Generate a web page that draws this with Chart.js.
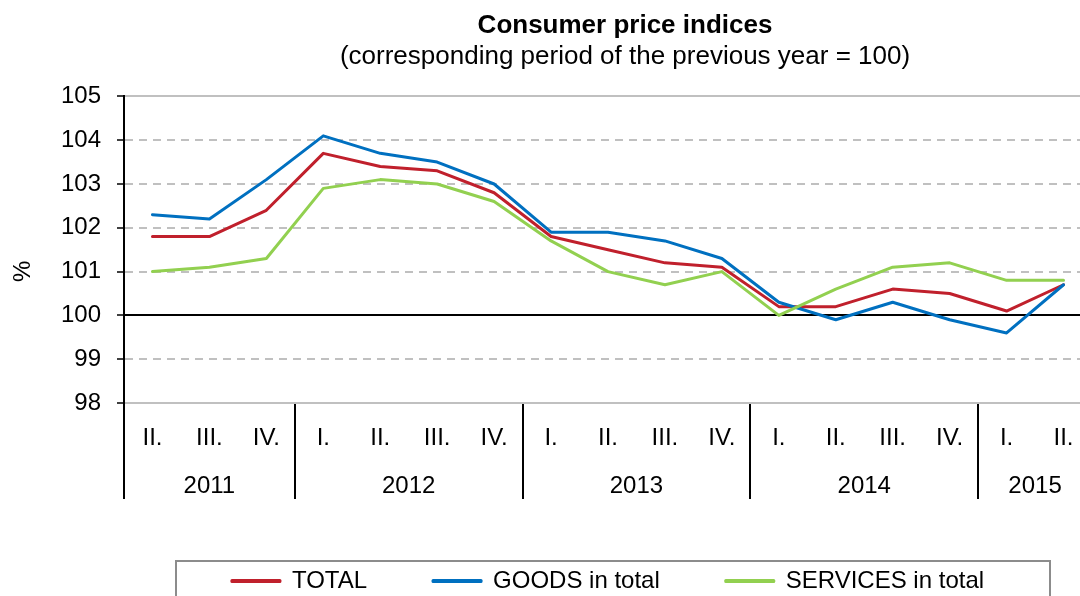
<!DOCTYPE html>
<html>
<head>
<meta charset="utf-8">
<script src="https://cdn.jsdelivr.net/npm/chart.js@4/dist/chart.umd.min.js"></script>
<style>
html,body{margin:0;padding:0;background:#fff;overflow:hidden;width:1080px;height:596px}
canvas{display:block}
</style>
</head>
<body>
<canvas id="c" width="1100" height="603"></canvas>
<script>
const TITLE = 'Consumer price indices';
const SUBTITLE = '(corresponding period of the previous year = 100)';
const Y_TITLE = '%';
const seriesNames = ['TOTAL', 'GOODS in total', 'SERVICES in total'];
const quarters = ['II.','III.','IV.','I.','II.','III.','IV.','I.','II.','III.','IV.','I.','II.','III.','IV.','I.','II.'];
const quarterYears = ['2011','2011','2011','2012','2012','2012','2012','2013','2013','2013','2013','2014','2014','2014','2014','2015','2015'];
const total    = [101.8,101.8,102.4,103.7,103.4,103.3,102.8,101.8,101.5,101.2,101.1,100.2,100.2,100.6,100.5,100.1,100.7];
const goods    = [102.3,102.2,103.1,104.1,103.7,103.5,103.0,101.9,101.9,101.7,101.3,100.3,99.9,100.3,99.9,99.6,100.7];
const services = [101.0,101.1,101.3,102.9,103.1,103.0,102.6,101.7,101.0,100.7,101.0,100.0,100.6,101.1,101.2,100.8,100.8];
const yTicks = [98,99,100,101,102,103,104,105];

const FONT = '"Liberation Sans", Arial, Helvetica, sans-serif';
Chart.defaults.font.family = FONT;
Chart.defaults.color = '#000';

const TITLE_CX = 625;
const LEGEND_CX = 608;

const sepColor = c => {
  const i = c.index;
  if (i === undefined || i >= quarters.length) return 'rgba(0,0,0,0)';
  return (i === 0 || quarterYears[i] !== quarterYears[i - 1]) ? '#000' : 'rgba(0,0,0,0)';
};

const helper = {
  id: 'helper',
  afterLayout(chart) {
    chart.boxes.forEach(b => {
      if (b.position === 'top' && b.options && typeof b.options.text === 'string') {
        b.left = TITLE_CX - 540;
        b.right = TITLE_CX + 540;
      }
    });
    if (chart.legend) {
      chart.legend.left = LEGEND_CX - 520;
      chart.legend.right = LEGEND_CX + 520;
    }
  },
  afterDraw(chart) {
    const ctx = chart.ctx, xs = chart.scales.x, area = chart.chartArea;
    ctx.save();
    ctx.font = '24px ' + FONT;
    ctx.fillStyle = '#000';
    ctx.textAlign = 'center';
    ctx.textBaseline = 'middle';
    const groups = {};
    quarterYears.forEach((y, i) => { (groups[y] = groups[y] || []).push(i); });
    Object.keys(groups).forEach(y => {
      const idx = groups[y];
      const cx = (xs.getPixelForValue(idx[0]) + xs.getPixelForValue(idx[idx.length - 1])) / 2;
      ctx.fillText(y, cx, area.bottom + 83);
    });
    ctx.translate(area.left - 101, area.top + 175);
    ctx.rotate(-Math.PI / 2);
    ctx.fillText(Y_TITLE, 0, 0);
    ctx.restore();
    const lg = chart.legend;
    if (lg && lg.legendHitBoxes && lg.legendHitBoxes.length) {
      const cx = (lg.left + lg.right) / 2;
      const top = lg.legendHitBoxes[0].top - 8;
      ctx.save();
      ctx.strokeStyle = '#8c8c8c';
      ctx.lineWidth = 2;
      ctx.strokeRect(cx - 432, top, 874, 120);
      ctx.restore();
    }
  }
};

new Chart(document.getElementById('c'), {
  type: 'line',
  data: {
    labels: quarters,
    datasets: [
      { label: seriesNames[0], data: total, borderColor: '#C0202C', backgroundColor: '#C0202C', order: 3 },
      { label: seriesNames[1], data: goods, borderColor: '#0070C0', backgroundColor: '#0070C0', order: 2 },
      { label: seriesNames[2], data: services, borderColor: '#92D050', backgroundColor: '#92D050', order: 1 }
    ]
  },
  options: {
    responsive: false,
    animation: false,
    devicePixelRatio: 1,
    layout: { padding: { top: 0, left: 0, right: 8, bottom: 0 } },
    elements: {
      line: { borderWidth: 3, tension: 0, borderJoinStyle: 'round', borderCapStyle: 'round', fill: false },
      point: { radius: 0, hoverRadius: 0 }
    },
    scales: {
      x: {
        type: 'category',
        offset: true,
        grid: { display: true, drawOnChartArea: false, offset: true, tickLength: 96, lineWidth: 2, tickWidth: 2, color: sepColor, tickColor: sepColor },
        border: { display: false },
        ticks: { font: { size: 24 }, color: '#000', padding: -75, autoSkip: false, maxRotation: 0 },
        afterFit: s => { s.height = 100; }
      },
      y: {
        min: 98, max: 105,
        afterBuildTicks: s => { s.ticks = yTicks.map(v => ({ value: v })); },
        ticks: { font: { size: 24 }, color: '#000', padding: 16 },
        grid: {
          color: c => (c.tick && c.tick.value === 100) ? '#000' : '#c0c0c0',
          lineWidth: 2, tickColor: '#000', tickLength: 7, tickWidth: 1.5
        },
        border: {
          display: true, color: '#000', width: 2,
          dash: c => (c.tick && [99,101,102,103,104].includes(c.tick.value)) ? [8, 6] : []
        },
        afterFit: s => { s.width = 124; }
      }
    },
    plugins: {
      title: { display: true, text: TITLE, font: { size: 26, weight: 'bold' }, color: '#000', padding: { top: 10, bottom: 0 } },
      subtitle: { display: true, text: SUBTITLE, font: { size: 26 }, color: '#000', padding: { top: 0, bottom: 24 } },
      legend: {
        position: 'bottom',
        labels: {
          boxWidth: 48, boxHeight: 1, padding: 66, font: { size: 24 }, color: '#000',
          sort: (a, b) => a.datasetIndex - b.datasetIndex,
          generateLabels: chart => Chart.defaults.plugins.legend.labels.generateLabels(chart).map(it => {
            it.fillStyle = it.strokeStyle; it.lineWidth = 3; return it;
          })
        }
      },
      tooltip: { enabled: false }
    }
  },
  plugins: [helper]
});
</script>
</body>
</html>
